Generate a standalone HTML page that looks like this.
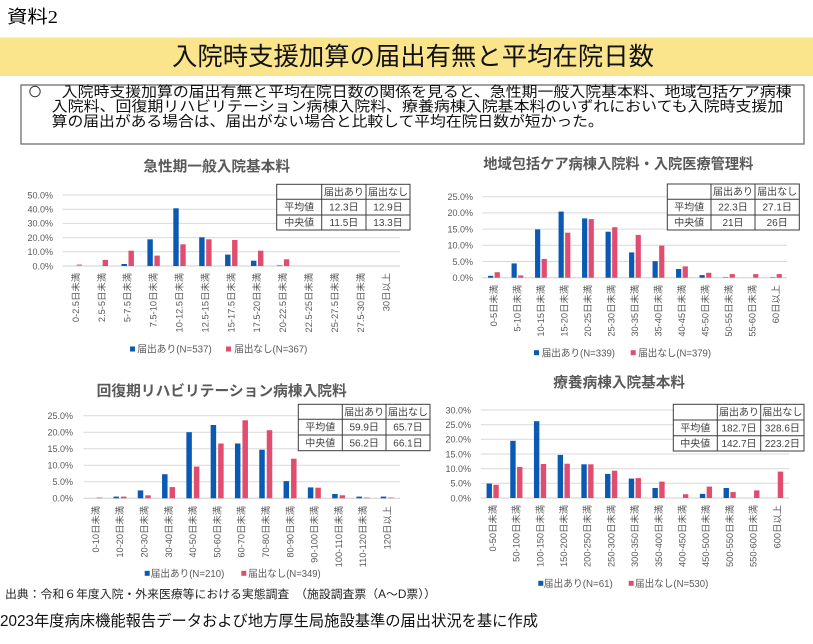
<!DOCTYPE html>
<html><head><meta charset="utf-8"><style>
html,body{margin:0;padding:0;background:#fff;width:813px;height:644px;overflow:hidden}
svg{display:block}
text{font-family:"Liberation Sans","Noto Sans CJK JP",sans-serif}
.yl{font-size:9px;fill:#595959;text-anchor:end}
.xl{font-size:9.3px;fill:#595959;text-anchor:end}
.tt{font-size:14.5px;font-weight:bold;fill:#595959}
.lg{font-size:10px;fill:#595959}
.tb{font-size:10px;fill:#404040;text-anchor:middle}
.g{stroke:#d9d9d9;stroke-width:1}
.b{fill:#0a5ab3}
.r{fill:#e04d6f}
.tbl{fill:#fff;stroke:#3c3c3c;stroke-width:1}
.tl{stroke:#3c3c3c;stroke-width:1}
</style></head><body>
<svg width="813" height="644" viewBox="0 0 813 644" xmlns="http://www.w3.org/2000/svg">
<!-- header -->
<text x="7" y="23" font-size="18" fill="#000" textLength="51" lengthAdjust="spacingAndGlyphs" style="font-family:'Liberation Serif','Noto Sans CJK JP',serif">資料2</text>
<rect x="0" y="37.5" width="813" height="38.5" fill="#fae58c"/>
<text x="172" y="65" font-size="25" fill="#111" textLength="482" lengthAdjust="spacingAndGlyphs">入院時支援加算の届出有無と平均在院日数</text>
<rect x="21" y="85" width="783" height="59" fill="#fff" stroke="#6e6e6e" stroke-width="1.3"/>
<circle cx="35" cy="91.5" r="5.2" fill="none" stroke="#333" stroke-width="1"/>
<text x="61.7" y="97" font-size="14.5" fill="#111" textLength="730" lengthAdjust="spacingAndGlyphs">入院時支援加算の届出有無と平均在院日数の関係を見ると、急性期一般入院基本料、地域包括ケア病棟</text>
<text x="51.7" y="111.5" font-size="14.5" fill="#111" textLength="731.6" lengthAdjust="spacingAndGlyphs">入院料、回復期リハビリテーション病棟入院料、療養病棟入院基本料のいずれにおいても入院時支援加</text>
<text x="51.7" y="126.5" font-size="14.5" fill="#111" textLength="552" lengthAdjust="spacingAndGlyphs">算の届出がある場合は、届出がない場合と比較して平均在院日数が短かった。</text>

<!-- ================= Chart 1 ================= -->
<text class="tt" x="143.3" y="171.5" textLength="146.7" lengthAdjust="spacingAndGlyphs">急性期一般入院基本料</text>
<g>
<line class="g" x1="62.7" x2="400" y1="195" y2="195"/>
<line class="g" x1="62.7" x2="400" y1="209.2" y2="209.2"/>
<line class="g" x1="62.7" x2="400" y1="223.4" y2="223.4"/>
<line class="g" x1="62.7" x2="400" y1="237.6" y2="237.6"/>
<line class="g" x1="62.7" x2="400" y1="251.8" y2="251.8"/>
<line x1="62.7" x2="400" y1="266" y2="266" stroke="#cfcfcf"/>
</g>
<text class="yl" x="53" y="198.3">50.0%</text>
<text class="yl" x="53" y="212.5">40.0%</text>
<text class="yl" x="53" y="226.7">30.0%</text>
<text class="yl" x="53" y="240.9">20.0%</text>
<text class="yl" x="53" y="255.1">10.0%</text>
<text class="yl" x="53" y="269.3">0.0%</text>
<g>
<rect class="b" x="121.5" y="264.0" width="5.4" height="2.0"/>
<rect class="b" x="147.4" y="239.3" width="5.4" height="26.7"/>
<rect class="b" x="173.3" y="208.3" width="5.4" height="57.7"/>
<rect class="b" x="199.2" y="237.3" width="5.4" height="28.7"/>
<rect class="b" x="225.1" y="254.6" width="5.4" height="11.4"/>
<rect class="b" x="251.0" y="260.7" width="5.4" height="5.3"/>
<rect class="b" x="276.9" y="264.9" width="5.4" height="1.1" opacity="0.5"/>
<rect class="r" x="76.7" y="264.3" width="5.4" height="1.7" opacity="0.6"/>
<rect class="r" x="102.6" y="259.9" width="5.4" height="6.1"/>
<rect class="r" x="128.5" y="250.7" width="5.4" height="15.3"/>
<rect class="r" x="154.4" y="255.6" width="5.4" height="10.4"/>
<rect class="r" x="180.3" y="244.3" width="5.4" height="21.7"/>
<rect class="r" x="206.2" y="239.3" width="5.4" height="26.7"/>
<rect class="r" x="232.1" y="240.0" width="5.4" height="26.0"/>
<rect class="r" x="258.0" y="250.7" width="5.4" height="15.3"/>
<rect class="r" x="283.9" y="259.3" width="5.4" height="6.7"/>
</g>
<g>
<text class="xl" transform="translate(75.65,273) rotate(-90)" dy="0.35em">0-2.5日未満</text>
<text class="xl" transform="translate(101.55,273) rotate(-90)" dy="0.35em">2.5-5日未満</text>
<text class="xl" transform="translate(127.45,273) rotate(-90)" dy="0.35em">5-7.5日未満</text>
<text class="xl" transform="translate(153.35,273) rotate(-90)" dy="0.35em">7.5-10日未満</text>
<text class="xl" transform="translate(179.25,273) rotate(-90)" dy="0.35em">10-12.5日未満</text>
<text class="xl" transform="translate(205.15,273) rotate(-90)" dy="0.35em">12.5-15日未満</text>
<text class="xl" transform="translate(231.05,273) rotate(-90)" dy="0.35em">15-17.5日未満</text>
<text class="xl" transform="translate(256.95,273) rotate(-90)" dy="0.35em">17.5-20日未満</text>
<text class="xl" transform="translate(282.85,273) rotate(-90)" dy="0.35em">20-22.5日未満</text>
<text class="xl" transform="translate(308.75,273) rotate(-90)" dy="0.35em">22.5-25日未満</text>
<text class="xl" transform="translate(334.65,273) rotate(-90)" dy="0.35em">25-27.5日未満</text>
<text class="xl" transform="translate(360.55,273) rotate(-90)" dy="0.35em">27.5-30日未満</text>
<text class="xl" transform="translate(386.45,273) rotate(-90)" dy="0.35em">30日以上</text>
</g>
<rect class="tbl" x="276.7" y="184.3" width="133.3" height="45.7"/>
<line class="tl" x1="276.7" x2="410" y1="199.3" y2="199.3"/>
<line class="tl" x1="276.7" x2="410" y1="215" y2="215"/>
<line class="tl" x1="321.7" x2="321.7" y1="184.3" y2="230"/>
<line class="tl" x1="366" x2="366" y1="184.3" y2="230"/>
<text class="tb" x="343.9" y="195.3">届出あり</text>
<text class="tb" x="388" y="195.3">届出なし</text>
<text class="tb" x="299.2" y="210.7">平均値</text>
<text class="tb" x="343.9" y="210.7">12.3日</text>
<text class="tb" x="388" y="210.7">12.9日</text>
<text class="tb" x="299.2" y="226">中央値</text>
<text class="tb" x="343.9" y="226">11.5日</text>
<text class="tb" x="388" y="226">13.3日</text>
<rect class="b" x="130" y="346.5" width="5" height="5"/>
<text class="lg" x="137.3" y="352.7" textLength="74.4" lengthAdjust="spacingAndGlyphs">届出あり(N=537)</text>
<rect class="r" x="226" y="346.5" width="5" height="5"/>
<text class="lg" x="234.3" y="352.7" textLength="73" lengthAdjust="spacingAndGlyphs">届出なし(N=367)</text>

<!-- ================= Chart 2 ================= -->
<text class="tt" x="483.3" y="169" textLength="270" lengthAdjust="spacingAndGlyphs">地域包括ケア病棟入院料・入院医療管理料</text>
<g>
<line class="g" x1="482.2" x2="787" y1="196.7" y2="196.7"/>
<line class="g" x1="482.2" x2="787" y1="212.9" y2="212.9"/>
<line class="g" x1="482.2" x2="787" y1="229.1" y2="229.1"/>
<line class="g" x1="482.2" x2="787" y1="245.3" y2="245.3"/>
<line class="g" x1="482.2" x2="787" y1="261.5" y2="261.5"/>
<line x1="482.2" x2="787" y1="277.7" y2="277.7" stroke="#cfcfcf"/>
</g>
<text class="yl" x="473" y="200">25.0%</text>
<text class="yl" x="473" y="216.2">20.0%</text>
<text class="yl" x="473" y="232.4">15.0%</text>
<text class="yl" x="473" y="248.6">10.0%</text>
<text class="yl" x="473" y="264.8">5.0%</text>
<text class="yl" x="473" y="281">0.0%</text>
<g>
<rect class="b" x="488.05" y="275.8" width="5.2" height="1.9"/>
<rect class="b" x="511.55" y="263.4" width="5.2" height="14.3"/>
<rect class="b" x="535.05" y="229.4" width="5.2" height="48.3"/>
<rect class="b" x="558.55" y="211.6" width="5.2" height="66.1"/>
<rect class="b" x="582.05" y="218.4" width="5.2" height="59.3"/>
<rect class="b" x="605.55" y="231.7" width="5.2" height="46.0"/>
<rect class="b" x="629.05" y="252.4" width="5.2" height="25.3"/>
<rect class="b" x="652.55" y="261.2" width="5.2" height="16.5"/>
<rect class="b" x="676.05" y="269.0" width="5.2" height="8.7"/>
<rect class="b" x="699.55" y="275.1" width="5.2" height="2.6"/>
<rect class="b" x="723.05" y="276.9" width="5.2" height="0.8" opacity="0.5"/>
<rect class="b" x="770.05" y="276.9" width="5.2" height="0.8" opacity="0.5"/>
<rect class="r" x="494.65" y="272.2" width="5.2" height="5.5"/>
<rect class="r" x="518.15" y="275.4" width="5.2" height="2.3"/>
<rect class="r" x="541.65" y="258.9" width="5.2" height="18.8"/>
<rect class="r" x="565.15" y="232.7" width="5.2" height="45.0"/>
<rect class="r" x="588.65" y="219.1" width="5.2" height="58.6"/>
<rect class="r" x="612.15" y="227.2" width="5.2" height="50.5"/>
<rect class="r" x="635.65" y="234.9" width="5.2" height="42.8"/>
<rect class="r" x="659.15" y="245.6" width="5.2" height="32.1"/>
<rect class="r" x="682.65" y="266.4" width="5.2" height="11.3"/>
<rect class="r" x="706.15" y="272.8" width="5.2" height="4.9"/>
<rect class="r" x="729.65" y="274.1" width="5.2" height="3.6"/>
<rect class="r" x="753.15" y="274.1" width="5.2" height="3.6"/>
<rect class="r" x="776.65" y="274.1" width="5.2" height="3.6"/>
</g>
<g>
<text class="xl" transform="translate(493.95,285) rotate(-90)" dy="0.35em">0-5日未満</text>
<text class="xl" transform="translate(517.45,285) rotate(-90)" dy="0.35em">5-10日未満</text>
<text class="xl" transform="translate(540.95,285) rotate(-90)" dy="0.35em">10-15日未満</text>
<text class="xl" transform="translate(564.45,285) rotate(-90)" dy="0.35em">15-20日未満</text>
<text class="xl" transform="translate(587.95,285) rotate(-90)" dy="0.35em">20-25日未満</text>
<text class="xl" transform="translate(611.45,285) rotate(-90)" dy="0.35em">25-30日未満</text>
<text class="xl" transform="translate(634.95,285) rotate(-90)" dy="0.35em">30-35日未満</text>
<text class="xl" transform="translate(658.45,285) rotate(-90)" dy="0.35em">35-40日未満</text>
<text class="xl" transform="translate(681.95,285) rotate(-90)" dy="0.35em">40-45日未満</text>
<text class="xl" transform="translate(705.45,285) rotate(-90)" dy="0.35em">45-50日未満</text>
<text class="xl" transform="translate(728.95,285) rotate(-90)" dy="0.35em">50-55日未満</text>
<text class="xl" transform="translate(752.45,285) rotate(-90)" dy="0.35em">55-60日未満</text>
<text class="xl" transform="translate(775.95,285) rotate(-90)" dy="0.35em">60日以上</text>
</g>
<rect class="tbl" x="667.3" y="184" width="132" height="46"/>
<line class="tl" x1="667.3" x2="799.3" y1="199.3" y2="199.3"/>
<line class="tl" x1="667.3" x2="799.3" y1="215" y2="215"/>
<line class="tl" x1="711" x2="711" y1="184" y2="230"/>
<line class="tl" x1="755" x2="755" y1="184" y2="230"/>
<text class="tb" x="733" y="195.2">届出あり</text>
<text class="tb" x="777.2" y="195.2">届出なし</text>
<text class="tb" x="689.2" y="210.7">平均値</text>
<text class="tb" x="733" y="210.7">22.3日</text>
<text class="tb" x="777.2" y="210.7">27.1日</text>
<text class="tb" x="689.2" y="226">中央値</text>
<text class="tb" x="733" y="226">21日</text>
<text class="tb" x="777.2" y="226">26日</text>
<rect class="b" x="534" y="350.2" width="5" height="5"/>
<text class="lg" x="541.7" y="356.3" textLength="73.3" lengthAdjust="spacingAndGlyphs">届出あり(N=339)</text>
<rect class="r" x="630.7" y="350.2" width="5" height="5"/>
<text class="lg" x="638.3" y="356.3" textLength="72.7" lengthAdjust="spacingAndGlyphs">届出なし(N=379)</text>

<!-- ================= Chart 3 ================= -->
<text class="tt" x="96.7" y="396" textLength="250" lengthAdjust="spacingAndGlyphs">回復期リハビリテーション病棟入院料</text>
<g>
<line class="g" x1="83.5" x2="400" y1="415.7" y2="415.7"/>
<line class="g" x1="83.5" x2="400" y1="432.2" y2="432.2"/>
<line class="g" x1="83.5" x2="400" y1="448.8" y2="448.8"/>
<line class="g" x1="83.5" x2="400" y1="465.3" y2="465.3"/>
<line class="g" x1="83.5" x2="400" y1="481.8" y2="481.8"/>
<line x1="83.5" x2="400" y1="498.3" y2="498.3" stroke="#cfcfcf"/>
</g>
<text class="yl" x="73" y="419">25.0%</text>
<text class="yl" x="73" y="435.5">20.0%</text>
<text class="yl" x="73" y="452.1">15.0%</text>
<text class="yl" x="73" y="468.6">10.0%</text>
<text class="yl" x="73" y="485.1">5.0%</text>
<text class="yl" x="73" y="501.6">0.0%</text>
<g>
<rect class="b" x="113.45" y="496.6" width="5.5" height="1.7"/>
<rect class="b" x="137.75" y="490.4" width="5.5" height="7.9"/>
<rect class="b" x="162.05" y="474.2" width="5.5" height="24.1"/>
<rect class="b" x="186.35" y="432.2" width="5.5" height="66.1"/>
<rect class="b" x="210.65" y="425.0" width="5.5" height="73.3"/>
<rect class="b" x="234.95" y="443.5" width="5.5" height="54.8"/>
<rect class="b" x="259.25" y="449.7" width="5.5" height="48.6"/>
<rect class="b" x="283.55" y="481.1" width="5.5" height="17.2"/>
<rect class="b" x="307.85" y="487.4" width="5.5" height="10.9"/>
<rect class="b" x="332.15" y="494.0" width="5.5" height="4.3"/>
<rect class="b" x="356.45" y="496.6" width="5.5" height="1.7"/>
<rect class="b" x="380.75" y="496.6" width="5.5" height="1.7"/>
<rect class="r" x="96.65" y="497.3" width="5.5" height="1.0" opacity="0.6"/>
<rect class="r" x="120.95" y="496.6" width="5.5" height="1.7"/>
<rect class="r" x="145.25" y="495.3" width="5.5" height="3.0"/>
<rect class="r" x="169.55" y="487.1" width="5.5" height="11.2"/>
<rect class="r" x="193.85" y="466.6" width="5.5" height="31.7"/>
<rect class="r" x="218.15" y="443.5" width="5.5" height="54.8"/>
<rect class="r" x="242.45" y="420.3" width="5.5" height="78.0"/>
<rect class="r" x="266.75" y="430.2" width="5.5" height="68.1"/>
<rect class="r" x="291.05" y="458.7" width="5.5" height="39.6"/>
<rect class="r" x="315.35" y="487.7" width="5.5" height="10.6"/>
<rect class="r" x="339.65" y="495.3" width="5.5" height="3.0"/>
<rect class="r" x="363.95" y="497.3" width="5.5" height="1.0" opacity="0.6"/>
<rect class="r" x="388.25" y="497.3" width="5.5" height="1.0" opacity="0.6"/>
</g>
<g>
<text class="xl" transform="translate(95.65,506) rotate(-90)" dy="0.35em">0-10日未満</text>
<text class="xl" transform="translate(119.95,506) rotate(-90)" dy="0.35em">10-20日未満</text>
<text class="xl" transform="translate(144.25,506) rotate(-90)" dy="0.35em">20-30日未満</text>
<text class="xl" transform="translate(168.55,506) rotate(-90)" dy="0.35em">30-40日未満</text>
<text class="xl" transform="translate(192.85,506) rotate(-90)" dy="0.35em">40-50日未満</text>
<text class="xl" transform="translate(217.15,506) rotate(-90)" dy="0.35em">50-60日未満</text>
<text class="xl" transform="translate(241.45,506) rotate(-90)" dy="0.35em">60-70日未満</text>
<text class="xl" transform="translate(265.75,506) rotate(-90)" dy="0.35em">70-80日未満</text>
<text class="xl" transform="translate(290.05,506) rotate(-90)" dy="0.35em">80-90日未満</text>
<text class="xl" transform="translate(314.35,506) rotate(-90)" dy="0.35em">90-100日未満</text>
<text class="xl" transform="translate(338.65,506) rotate(-90)" dy="0.35em">100-110日未満</text>
<text class="xl" transform="translate(362.95,506) rotate(-90)" dy="0.35em">110-120日未満</text>
<text class="xl" transform="translate(387.25,506) rotate(-90)" dy="0.35em">120日以上</text>
</g>
<rect class="tbl" x="298.3" y="404.3" width="131.7" height="46.4"/>
<line class="tl" x1="298.3" x2="430" y1="419.3" y2="419.3"/>
<line class="tl" x1="298.3" x2="430" y1="435" y2="435"/>
<line class="tl" x1="342.3" x2="342.3" y1="404.3" y2="450.7"/>
<line class="tl" x1="386" x2="386" y1="404.3" y2="450.7"/>
<text class="tb" x="364.2" y="415.3">届出あり</text>
<text class="tb" x="408" y="415.3">届出なし</text>
<text class="tb" x="320.3" y="430.7">平均値</text>
<text class="tb" x="364.2" y="430.7">59.9日</text>
<text class="tb" x="408" y="430.7">65.7日</text>
<text class="tb" x="320.3" y="446.4">中央値</text>
<text class="tb" x="364.2" y="446.4">56.2日</text>
<text class="tb" x="408" y="446.4">66.1日</text>
<rect class="b" x="144.7" y="570.8" width="5" height="5"/>
<text class="lg" x="150.7" y="577" textLength="73.6" lengthAdjust="spacingAndGlyphs">届出あり(N=210)</text>
<rect class="r" x="241.3" y="570.8" width="5" height="5"/>
<text class="lg" x="248.3" y="577" textLength="72.4" lengthAdjust="spacingAndGlyphs">届出なし(N=349)</text>

<!-- ================= Chart 4 ================= -->
<text class="tt" x="553.3" y="387.5" textLength="131.7" lengthAdjust="spacingAndGlyphs">療養病棟入院基本料</text>
<g>
<line class="g" x1="480.8" x2="789" y1="410" y2="410"/>
<line class="g" x1="480.8" x2="789" y1="424.7" y2="424.7"/>
<line class="g" x1="480.8" x2="789" y1="439.3" y2="439.3"/>
<line class="g" x1="480.8" x2="789" y1="454" y2="454"/>
<line class="g" x1="480.8" x2="789" y1="468.7" y2="468.7"/>
<line class="g" x1="480.8" x2="789" y1="483.3" y2="483.3"/>
<line x1="480.8" x2="789" y1="498" y2="498" stroke="#cfcfcf"/>
</g>
<text class="yl" x="471" y="413.3">30.0%</text>
<text class="yl" x="471" y="428">25.0%</text>
<text class="yl" x="471" y="442.6">20.0%</text>
<text class="yl" x="471" y="457.3">15.0%</text>
<text class="yl" x="471" y="472">10.0%</text>
<text class="yl" x="471" y="486.6">5.0%</text>
<text class="yl" x="471" y="501.3">0.0%</text>
<g>
<rect class="b" x="486.55" y="483.6" width="5.4" height="14.4"/>
<rect class="b" x="510.25" y="440.8" width="5.4" height="57.2"/>
<rect class="b" x="533.95" y="421.2" width="5.4" height="76.8"/>
<rect class="b" x="557.65" y="454.9" width="5.4" height="43.1"/>
<rect class="b" x="581.35" y="464.3" width="5.4" height="33.7"/>
<rect class="b" x="605.05" y="473.9" width="5.4" height="24.1"/>
<rect class="b" x="628.75" y="478.6" width="5.4" height="19.4"/>
<rect class="b" x="652.45" y="488.0" width="5.4" height="10.0"/>
<rect class="b" x="699.85" y="493.9" width="5.4" height="4.1"/>
<rect class="b" x="723.55" y="488.0" width="5.4" height="10.0"/>
<rect class="r" x="493.35" y="484.8" width="5.4" height="13.2"/>
<rect class="r" x="517.05" y="466.9" width="5.4" height="31.1"/>
<rect class="r" x="540.75" y="464.0" width="5.4" height="34.0"/>
<rect class="r" x="564.45" y="463.7" width="5.4" height="34.3"/>
<rect class="r" x="588.15" y="464.3" width="5.4" height="33.7"/>
<rect class="r" x="611.85" y="470.7" width="5.4" height="27.3"/>
<rect class="r" x="635.55" y="478.1" width="5.4" height="19.9"/>
<rect class="r" x="659.25" y="481.6" width="5.4" height="16.4"/>
<rect class="r" x="682.95" y="494.2" width="5.4" height="3.8"/>
<rect class="r" x="706.65" y="486.6" width="5.4" height="11.4"/>
<rect class="r" x="730.35" y="492.1" width="5.4" height="5.9"/>
<rect class="r" x="754.05" y="490.4" width="5.4" height="7.6"/>
<rect class="r" x="777.75" y="471.6" width="5.4" height="26.4"/>
</g>
<g>
<text class="xl" transform="translate(492.65,505) rotate(-90)" dy="0.35em">0-50日未満</text>
<text class="xl" transform="translate(516.35,505) rotate(-90)" dy="0.35em">50-100日未満</text>
<text class="xl" transform="translate(540.05,505) rotate(-90)" dy="0.35em">100-150日未満</text>
<text class="xl" transform="translate(563.75,505) rotate(-90)" dy="0.35em">150-200日未満</text>
<text class="xl" transform="translate(587.45,505) rotate(-90)" dy="0.35em">200-250日未満</text>
<text class="xl" transform="translate(611.15,505) rotate(-90)" dy="0.35em">250-300日未満</text>
<text class="xl" transform="translate(634.85,505) rotate(-90)" dy="0.35em">300-350日未満</text>
<text class="xl" transform="translate(658.55,505) rotate(-90)" dy="0.35em">350-400日未満</text>
<text class="xl" transform="translate(682.25,505) rotate(-90)" dy="0.35em">400-450日未満</text>
<text class="xl" transform="translate(705.95,505) rotate(-90)" dy="0.35em">450-500日未満</text>
<text class="xl" transform="translate(729.65,505) rotate(-90)" dy="0.35em">500-550日未満</text>
<text class="xl" transform="translate(753.35,505) rotate(-90)" dy="0.35em">550-600日未満</text>
<text class="xl" transform="translate(777.05,505) rotate(-90)" dy="0.35em">600日以上</text>
</g>
<rect class="tbl" x="673.3" y="404.3" width="130.7" height="46.7"/>
<line class="tl" x1="673.3" x2="804" y1="420" y2="420"/>
<line class="tl" x1="673.3" x2="804" y1="435.7" y2="435.7"/>
<line class="tl" x1="717.3" x2="717.3" y1="404.3" y2="451"/>
<line class="tl" x1="760.7" x2="760.7" y1="404.3" y2="451"/>
<text class="tb" x="739" y="415.7">届出あり</text>
<text class="tb" x="782.4" y="415.7">届出なし</text>
<text class="tb" x="695.3" y="431.4">平均値</text>
<text class="tb" x="739" y="431.4">182.7日</text>
<text class="tb" x="782.4" y="431.4">328.6日</text>
<text class="tb" x="695.3" y="446.9">中央値</text>
<text class="tb" x="739" y="446.9">142.7日</text>
<text class="tb" x="782.4" y="446.9">223.2日</text>
<rect class="b" x="538.3" y="580.8" width="5" height="5"/>
<text class="lg" x="543.8" y="587" textLength="69" lengthAdjust="spacingAndGlyphs">届出あり(N=61)</text>
<rect class="r" x="628.7" y="580.8" width="5" height="5"/>
<text class="lg" x="635" y="587" textLength="73.3" lengthAdjust="spacingAndGlyphs">届出なし(N=530)</text>

<!-- footer -->
<text x="5" y="598" font-size="11.5" fill="#222" textLength="431" lengthAdjust="spacingAndGlyphs">出典：令和６年度入院・外来医療等における実態調査　（施設調査票（A～D票））</text>
<text x="0" y="626" font-size="15.5" fill="#111" textLength="538" lengthAdjust="spacingAndGlyphs">2023年度病床機能報告データおよび地方厚生局施設基準の届出状況を基に作成</text>
</svg>
</body></html>
